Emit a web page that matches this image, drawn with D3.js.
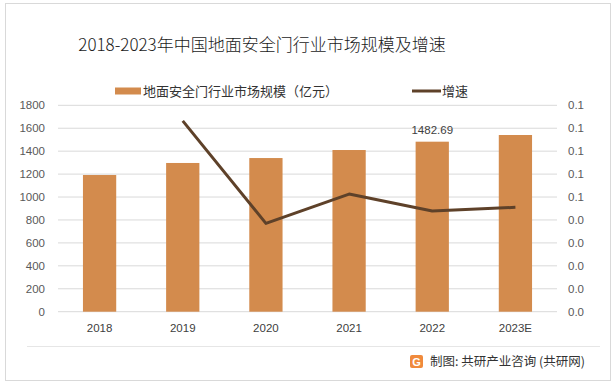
<!DOCTYPE html>
<html lang="zh">
<head>
<meta charset="utf-8">
<title>2018-2023年中国地面安全门行业市场规模及增速</title>
<style>
  html,body{margin:0;background:#fff;}
  svg{display:block;font-family:"Noto Sans CJK SC","Microsoft YaHei",sans-serif;}
</style>
</head>
<body>
<div id="chart"></div>
<script src="https://cdn.jsdelivr.net/npm/d3@7"></script>
<script>
// data
const years = ["2018", "2019", "2020", "2021", "2022", "2023E"];
const scale = [1192, 1297, 1340, 1410, 1482.69, 1541];
const growth = [null, 0.0832, 0.0385, 0.0513, 0.0439, 0.0455];
const leftTicks = [0, 200, 400, 600, 800, 1000, 1200, 1400, 1600, 1800];
const rightTicks = [0, 0.01, 0.02, 0.03, 0.04, 0.05, 0.06, 0.07, 0.08, 0.09];

const W = 616, H = 386;
const m = {left: 58, right: 59, top: 105.3, bottom: 74.3};

const svg = d3.select("#chart").append("svg")
    .attr("width", W).attr("height", H);

// outer frame
svg.append("rect")
    .attr("x", 5.5).attr("y", 3.5).attr("width", 605).attr("height", 377)
    .attr("fill", "#fff").attr("stroke", "#d9d9d9");

svg.append("text")
    .attr("x", 262).attr("y", 51)
    .attr("text-anchor", "middle")
    .attr("font-size", 17)
    .attr("font-weight", 300)
    .attr("fill", "#1a1a1a")
    .text("2018-2023年中国地面安全门行业市场规模及增速");

const x = d3.scaleBand().domain(years)
    .range([m.left, W - m.right]).paddingInner(0.6).paddingOuter(0.3);
const y = d3.scaleLinear().domain([0, 1800]).range([H - m.bottom, m.top]);
const y2 = d3.scaleLinear().domain([0, 0.09]).range([H - m.bottom, m.top]);

// gridlines
svg.append("g")
  .selectAll("line").data(leftTicks).enter().append("line")
    .attr("x1", m.left).attr("x2", W - m.right)
    .attr("y1", d => y(d)).attr("y2", d => y(d))
    .attr("stroke", "#d9d9d9").attr("stroke-width", 1);

// left axis
const yAxis = svg.append("g")
    .attr("transform", `translate(${m.left},0)`)
    .call(d3.axisLeft(y).tickValues(leftTicks).tickFormat(d3.format("d")).tickSize(0).tickPadding(13));
yAxis.select(".domain").remove();
yAxis.selectAll("text").attr("font-size", 11.5).attr("fill", "#595959")
    .attr("font-family", "Liberation Sans, Arial, sans-serif");

// right axis (Excel rounds to one decimal)
const fmt = v => (Math.round(v * 10 + 1e-9) / 10).toFixed(1);
const yAxis2 = svg.append("g")
    .attr("transform", `translate(${W - m.right},0)`)
    .call(d3.axisRight(y2).tickValues(rightTicks).tickFormat(fmt).tickSize(0).tickPadding(11));
yAxis2.select(".domain").remove();
yAxis2.selectAll("text").attr("font-size", 11.5).attr("fill", "#595959")
    .attr("font-family", "Liberation Sans, Arial, sans-serif");

// x axis
const xAxis = svg.append("g")
    .attr("transform", `translate(0,${H - m.bottom})`)
    .call(d3.axisBottom(x).tickSize(0).tickPadding(12));
xAxis.select(".domain").remove();
xAxis.selectAll("text").attr("font-size", 11.5).attr("fill", "#404040")
    .attr("font-family", "Liberation Sans, Arial, sans-serif");

// bars
svg.append("g")
  .selectAll("rect").data(scale).enter().append("rect")
    .attr("x", (d, i) => x(years[i]))
    .attr("width", x.bandwidth())
    .attr("y", d => y(d))
    .attr("height", d => y(0) - y(d))
    .attr("fill", "#d38b4d");

// data label on 2022
svg.append("text")
    .attr("x", x("2022") + x.bandwidth() / 2)
    .attr("y", y(1482.69) - 8)
    .attr("text-anchor", "middle")
    .attr("font-size", 11.5).attr("fill", "#404040")
    .attr("font-family", "Liberation Sans, Arial, sans-serif")
    .text("1482.69");

// growth line
const line = d3.line()
    .defined(d => d != null)
    .x((d, i) => x(years[i]) + x.bandwidth() / 2)
    .y(d => y2(d));
svg.append("path")
    .datum(growth)
    .attr("d", line)
    .attr("fill", "none")
    .attr("stroke", "#5e4129")
    .attr("stroke-width", 3)
    .attr("stroke-linejoin", "round");

// legend
const lg = svg.append("g");
lg.append("rect").attr("x", 115).attr("y", 87.5).attr("width", 26).attr("height", 7).attr("fill", "#d38b4d");
lg.append("text").attr("x", 143).attr("y", 95.5).attr("font-size", 13).attr("fill", "#333")
    .text("地面安全门行业市场规模（亿元）");
lg.append("line").attr("x1", 412).attr("x2", 441).attr("y1", 91).attr("y2", 91)
    .attr("stroke", "#5e4129").attr("stroke-width", 3);
lg.append("text").attr("x", 442).attr("y", 95.5).attr("font-size", 13).attr("fill", "#333")
    .text("增速");

// footer
svg.append("line").attr("x1", 27).attr("x2", 600).attr("y1", 346.5).attr("y2", 346.5)
    .attr("stroke", "#e6e6e6");
const logo = svg.append("g").attr("transform", "translate(410,355)");
logo.append("rect").attr("width", 13).attr("height", 13).attr("rx", 2).attr("fill", "#f08a3c");
logo.append("text").attr("x", 6.5).attr("y", 11).attr("text-anchor", "middle")
    .attr("font-size", 11).attr("font-weight", "bold").attr("fill", "#fff")
    .attr("font-family", "Liberation Sans, Arial, sans-serif").text("G");
svg.append("text").attr("x", 430).attr("y", 366)
    .attr("font-size", 12.5).attr("fill", "#333")
    .text("制图: 共研产业咨询 (共研网)");
</script>
</body>
</html>
